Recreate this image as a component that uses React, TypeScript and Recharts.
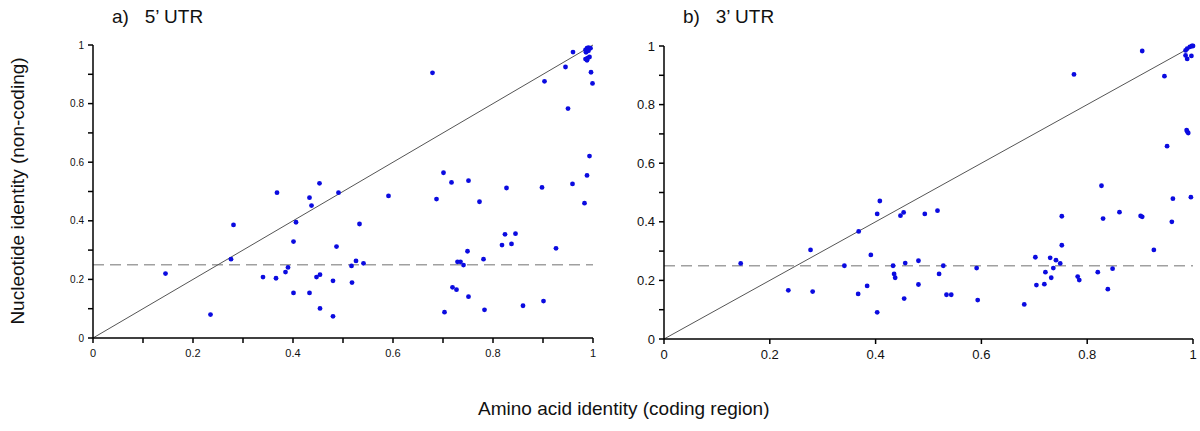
import React from 'react';
import { ScatterChart, Scatter, XAxis, YAxis, ReferenceLine } from 'recharts';

// 5' UTR panel: amino acid identity (x) vs nucleotide identity (y)
const utr5X = [
  0.145, 0.235, 0.276, 0.281, 0.34, 0.366, 0.368, 0.385, 0.39, 0.401, 0.406, 0.401,
  0.433, 0.437, 0.433, 0.453, 0.447, 0.454, 0.454, 0.487, 0.491, 0.48, 0.48,
  0.517, 0.518, 0.526, 0.533, 0.541, 0.591, 0.679, 0.687, 0.701, 0.703, 0.717,
  0.719, 0.727, 0.729, 0.735, 0.741, 0.749, 0.751, 0.751, 0.773, 0.781, 0.783,
  0.818, 0.824, 0.827, 0.837, 0.845, 0.86, 0.898, 0.901, 0.903, 0.926, 0.945,
  0.95, 0.96, 0.959, 0.983, 0.988, 0.993, 0.996, 0.999,
  0.985, 0.988, 0.991, 0.995, 0.986, 0.991, 0.985, 0.989, 0.993, 0.988,
];
const utr5Y = [
  0.22, 0.08, 0.269, 0.386, 0.208, 0.204, 0.496, 0.225, 0.241, 0.329, 0.395, 0.154,
  0.479, 0.452, 0.154, 0.528, 0.208, 0.216, 0.101, 0.312, 0.496, 0.195, 0.074,
  0.246, 0.189, 0.263, 0.389, 0.255, 0.485, 0.905, 0.474, 0.564, 0.088, 0.531,
  0.173, 0.165, 0.26, 0.26, 0.249, 0.296, 0.537, 0.141, 0.465, 0.269, 0.096,
  0.317, 0.354, 0.512, 0.321, 0.356, 0.11, 0.514, 0.126, 0.876, 0.306, 0.925,
  0.783, 0.976, 0.526, 0.46, 0.555, 0.621, 0.907, 0.869,
  0.983, 0.989, 0.991, 0.989, 0.975, 0.98, 0.952, 0.955, 0.959, 0.948,
];

// 3' UTR panel
const utr3X = [
  0.145, 0.235, 0.277, 0.281, 0.341, 0.367, 0.368, 0.384, 0.391, 0.403, 0.408, 0.403,
  0.433, 0.435, 0.437, 0.447, 0.453, 0.454, 0.456, 0.481, 0.481, 0.493, 0.517,
  0.52, 0.528, 0.534, 0.543, 0.591, 0.593, 0.681, 0.704, 0.702, 0.719, 0.721,
  0.73, 0.732, 0.736, 0.741, 0.749, 0.752, 0.752, 0.775, 0.782, 0.785, 0.82,
  0.827, 0.83, 0.839, 0.848, 0.861, 0.901, 0.904, 0.904, 0.926, 0.946, 0.951,
  0.96, 0.962, 0.988, 0.989, 0.991, 0.996,
  0.986, 0.989, 0.994, 0.998, 1.0, 0.986, 0.989, 0.997,
];
const utr3Y = [
  0.258, 0.166, 0.304, 0.162, 0.25, 0.154, 0.367, 0.181, 0.287, 0.427, 0.471, 0.091,
  0.25, 0.222, 0.209, 0.421, 0.432, 0.138, 0.259, 0.267, 0.186, 0.427, 0.438,
  0.222, 0.25, 0.151, 0.151, 0.242, 0.133, 0.118, 0.184, 0.279, 0.187, 0.228,
  0.277, 0.209, 0.242, 0.269, 0.258, 0.32, 0.419, 0.903, 0.213, 0.201, 0.228,
  0.523, 0.411, 0.17, 0.24, 0.433, 0.42, 0.417, 0.983, 0.304, 0.897, 0.658,
  0.4, 0.479, 0.713, 0.708, 0.703, 0.484,
  0.985, 0.991, 0.997, 1.0, 1.0, 0.968, 0.956, 0.966,
];

const ticks01 = [0, 0.1, 0.2, 0.3, 0.4, 0.5, 0.6, 0.7, 0.8, 0.9, 1];
const ticks02 = [0, 0.2, 0.4, 0.6, 0.8, 1];
const thresholdY = 0.25;

const toPoints = (xs: number[], ys: number[]) => xs.map((x, i) => ({ x, y: ys[i] }));
const evenLabel = (v: number) => (Math.round(v * 10) % 2 === 0 ? String(v) : '');

const FONT = '"Liberation Sans", Arial, sans-serif';
const DOT = '#0b0be0';

const Dot = (props: any) => <circle cx={props.cx} cy={props.cy} r={2.4} fill={DOT} />;

const Panel = ({ data, left, top, margin, yWidth, xTicks, xFont, yFont, xFmt }: any) => (
  <div style={{ position: 'absolute', left, top }}>
    <ScatterChart width={600} height={380} margin={margin}>
      <XAxis
        type="number"
        dataKey="x"
        domain={[0, 1]}
        ticks={xTicks}
        tickFormatter={xFmt}
        interval={0}
        height={30}
        axisLine={{ stroke: '#000', strokeWidth: 1.5 }}
        tickLine={{ stroke: '#000', strokeWidth: 1.5 }}
        tickSize={5}
        tickMargin={6}
        tick={{ fill: '#111', fontSize: xFont, fontFamily: FONT }}
      />
      <YAxis
        type="number"
        dataKey="y"
        domain={[0, 1]}
        ticks={ticks01}
        tickFormatter={evenLabel}
        interval={0}
        width={yWidth}
        axisLine={{ stroke: '#000', strokeWidth: 1.5 }}
        tickLine={{ stroke: '#000', strokeWidth: 1.5 }}
        tickSize={5}
        tickMargin={4}
        tick={{ fill: '#111', fontSize: yFont, fontFamily: FONT }}
      />
      <ReferenceLine
        y={thresholdY}
        stroke="#a0a0a0"
        strokeWidth={1.5}
        strokeDasharray="11 6"
      />
      <ReferenceLine
        segment={[{ x: 0, y: 0 }, { x: 1, y: 1 }]}
        stroke="#555"
        strokeWidth={1}
      />
      <Scatter data={data} shape={Dot} isAnimationActive={false} />
    </ScatterChart>
  </div>
);

export default function App() {
  const d5 = toPoints(utr5X, utr5Y);
  const d3 = toPoints(utr3X, utr3Y);
  return (
    <div
      style={{
        position: 'absolute',
        left: 0,
        top: 0,
        width: 1200,
        height: 431,
        background: '#fff',
        overflow: 'hidden',
        fontFamily: FONT,
      }}
    >
      <Panel
        data={d5}
        left={0}
        top={0}
        margin={{ top: 45, right: 7, left: 0, bottom: 12 }}
        yWidth={93}
        xTicks={ticks01}
        xFmt={evenLabel}
        xFont={11}
        yFont={10}
      />
      <Panel
        data={d3}
        left={600}
        top={0}
        margin={{ top: 46, right: 7, left: 0, bottom: 11 }}
        yWidth={64}
        xTicks={ticks02}
        xFmt={(v: number) => String(v)}
        xFont={13}
        yFont={13}
      />
      <div style={{ position: 'absolute', left: 112, top: 6, fontSize: 19, whiteSpace: 'pre', color: '#111' }}>
        {'a)   5’ UTR'}
      </div>
      <div style={{ position: 'absolute', left: 683, top: 6, fontSize: 19, whiteSpace: 'pre', color: '#111' }}>
        {'b)   3’ UTR'}
      </div>
      <div
        style={{
          position: 'absolute',
          left: 18,
          top: 191,
          transform: 'translate(-50%, -50%) rotate(-90deg)',
          fontSize: 19,
          whiteSpace: 'nowrap',
          color: '#111',
        }}
      >
        Nucleotide identity (non-coding)
      </div>
      <div
        style={{
          position: 'absolute',
          left: 478,
          top: 398,
          fontSize: 19,
          whiteSpace: 'nowrap',
          color: '#111',
        }}
      >
        Amino acid identity (coding region)
      </div>
    </div>
  );
}
